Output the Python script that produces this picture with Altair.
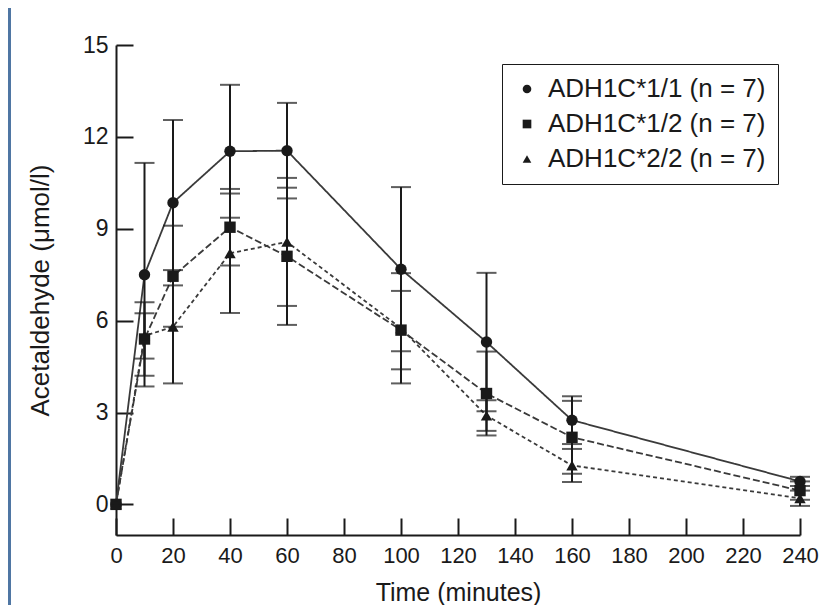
import altair as alt
import pandas as pd

# ---- data ----
times = [0, 10, 20, 40, 60, 100, 130, 160, 240]
groups = ["ADH1C*1/1 (n = 7)", "ADH1C*1/2 (n = 7)", "ADH1C*2/2 (n = 7)"]
mean_11 = [0, 7.5, 9.85, 11.53, 11.55, 7.68, 5.3, 2.75, 0.75]
sd_11 = [0, 3.65, 2.7, 2.17, 1.56, 2.68, 2.26, 0.78, 0.15]
mean_12 = [0, 5.4, 7.45, 9.05, 8.1, 5.69, 3.62, 2.19, 0.45]
sd_12 = [0, 1.2, 1.65, 1.25, 2.24, 1.28, 1.37, 1.19, 0.3]
mean_22 = [0, 5.5, 5.8, 8.2, 8.57, 5.75, 2.9, 1.27, 0.2]
sd_22 = [0, 0.74, 1.85, 1.95, 2.09, 1.8, 0.5, 0.54, 0.25]
x_ticks = list(range(0, 241, 20))
y_ticks = [0, 3, 6, 9, 12, 15]

rows = []
for g, ms, ss in zip(groups, [mean_11, mean_12, mean_22], [sd_11, sd_12, sd_22]):
    for t, m, s in zip(times, ms, ss):
        rows.append({"time": t, "group": g, "mean": m, "lo": m - s, "hi": m + s, "sd": s})
df = pd.DataFrame(rows)
df_err = df[df["sd"] > 0]

FONT = "Liberation Sans"
INK = "#1a1a1a"
dashes = [[1, 0], [7, 3], [4, 3]]

x_enc = alt.X(
    "time:Q",
    scale=alt.Scale(domain=[0, 240], nice=False, zero=False),
    axis=alt.Axis(
        values=x_ticks, title="Time (minutes)", grid=False,
        tickSize={"expr": "-17"}, tickWidth=2, tickColor=INK,
        domainWidth=2, domainColor=INK,
        labelFont=FONT, labelFontSize=22, labelColor=INK, labelPadding=27,
        labelOverlap=False, labelFlush=False,
        titleFont=FONT, titleFontSize=25, titleFontWeight="normal", titleColor=INK,
        titleY=65, titleBaseline="alphabetic",
    ),
)
y_axis = alt.Axis(
    values=y_ticks, title="Acetaldehyde (μmol/l)", grid=False,
    tickSize={"expr": "-17"}, tickWidth=2, tickColor=INK,
    domainWidth=2, domainColor=INK,
    labelFont=FONT, labelFontSize=23, labelColor=INK, labelPadding=25,
    labelOverlap=False,
    titleFont=FONT, titleFontSize=26, titleFontWeight="normal", titleColor=INK,
    titleX=-76, titleBaseline="middle",
)
y_scale = alt.Scale(domain=[-1, 15], nice=False, zero=False)

layers = []
strip = alt.Chart(pd.DataFrame({"a": [0]})).mark_rect(color="#4f76a3").encode(
    x=alt.value(-108), x2=alt.value(-105), y=alt.value(-37), y2=alt.value(560)
)
layers.append(strip)

for g, d in zip(groups, dashes):
    layers.append(
        alt.Chart(df[df["group"] == g]).mark_line(
            color="#3a3a3a", strokeWidth=1.8, strokeDash=d
        ).encode(x=x_enc, y=alt.Y("mean:Q", scale=y_scale, axis=y_axis))
    )

base_err = alt.Chart(df_err)
layers.append(
    base_err.mark_rule(color=INK, strokeWidth=2).encode(
        x=x_enc, y=alt.Y("lo:Q", scale=y_scale, axis=y_axis), y2="hi:Q"
    )
)
for col in ["hi", "lo"]:
    layers.append(
        base_err.mark_tick(orient="horizontal", size=20, thickness=2, color=INK).encode(
            x=x_enc, y=alt.Y(f"{col}:Q", scale=y_scale, axis=y_axis)
        )
    )

layers.append(
    alt.Chart(df).mark_point(filled=True, opacity=1, color=INK, size=130).encode(
        x=x_enc,
        y=alt.Y("mean:Q", scale=y_scale, axis=y_axis),
        shape=alt.Shape(
            "group:N",
            scale=alt.Scale(domain=groups, range=["circle", "square", "triangle-up"]),
            legend=alt.Legend(
                title=None, orient="none", legendX=386, legendY=19,
                labelFont=FONT, labelFontSize=26, labelColor=INK, labelLimit=400,
                symbolSize=75, symbolFillColor=INK, symbolStrokeColor=INK,
                strokeColor=INK, fillColor="white", padding=12,
                rowPadding=9, labelOffset=8,
            ),
        ),
    )
)

chart = alt.layer(*layers).properties(
    width=684, height=490,
    autosize=alt.AutoSizeParams(type="none"),
    padding={"left": 108, "top": 37, "right": 21, "bottom": 70},
    background="white",
).configure_view(stroke=None)

chart.save("out.html", embed_options={"renderer": "svg", "actions": False})
